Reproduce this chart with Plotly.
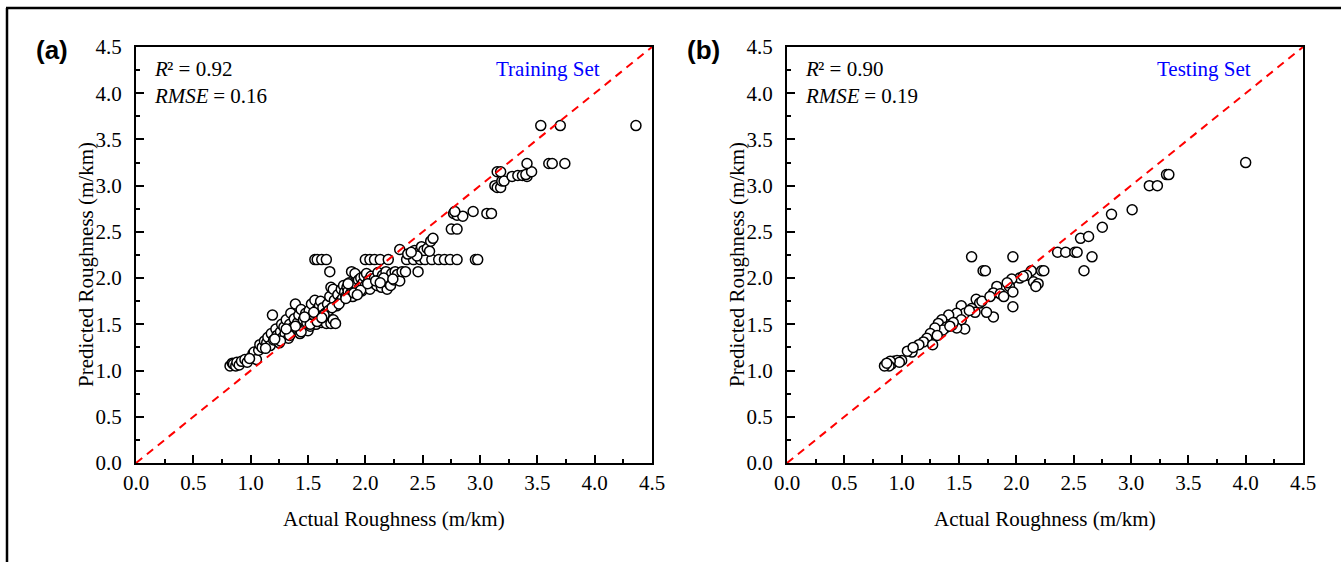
import plotly.graph_objects as go

# ---------------- data ----------------
train_actual = [
    0.82, 0.84, 0.85, 0.87, 0.88, 0.90, 0.92, 0.95, 0.97, 1.00, 1.02, 1.03, 1.05, 1.07,
    1.08, 1.10, 1.12, 1.14, 1.15, 1.17, 1.18, 1.19, 1.20, 1.22, 1.23, 1.25, 1.26, 1.27, 1.28, 1.29,
    1.30, 1.31, 1.32, 1.33, 1.34, 1.35, 1.36, 1.37, 1.38, 1.39, 1.40, 1.41, 1.42, 1.43, 1.44, 1.45,
    1.46, 1.47, 1.48, 1.49, 1.50, 1.50,
    1.51, 1.52, 1.53, 1.54, 1.55, 1.56, 1.57, 1.58, 1.59, 1.60, 1.60, 1.61, 1.62, 1.63, 1.64, 1.65,
    1.66, 1.67, 1.68, 1.70, 1.72, 1.74, 1.69, 1.70, 1.72, 1.73,
    1.56, 1.58, 1.62, 1.66, 1.69,
    1.75, 1.76, 1.78, 1.79, 1.80, 1.81, 1.82, 1.83, 1.84, 1.85, 1.86, 1.87, 1.88, 1.88, 1.89, 1.90,
    1.91, 1.92, 1.93, 1.94, 1.95, 1.96, 1.97, 1.98, 1.99,
    2.00, 2.01, 2.03, 2.04, 2.05, 2.06, 2.08, 2.10, 2.11, 2.12, 2.14, 2.15, 2.17, 2.18, 2.19, 2.20,
    2.21, 2.22, 2.23, 2.25, 2.26, 2.28, 2.30, 2.32, 2.35, 2.46,
    2.00, 2.04, 2.08, 2.13, 2.20, 2.36, 2.42, 2.48, 2.52, 2.58, 2.64, 2.69, 2.74, 2.80, 2.96, 2.98,
    2.30, 2.37, 2.43, 2.48, 2.49, 2.51, 2.54, 2.56, 2.57, 2.59, 2.45, 2.40,
    2.75, 2.80, 2.77, 2.80, 2.85, 2.94, 3.06, 3.10, 2.78,
    3.13, 3.15, 3.18, 3.19, 3.21, 3.15, 3.18, 3.28, 3.33, 3.37, 3.41, 3.40, 3.45, 3.41,
    3.60, 3.63, 3.74, 3.53, 3.70, 4.36,
    1.26, 1.34, 1.44, 1.52, 1.58, 1.64, 1.71, 1.77, 1.83, 1.90, 1.96, 2.02, 2.09, 2.16, 1.47, 1.55,
    1.62, 1.39, 1.31, 1.13, 1.21, 0.99, 2.13, 2.24, 1.85, 1.93,
]
train_pred = [
    1.05, 1.08, 1.07, 1.05, 1.09, 1.06, 1.10, 1.12, 1.09, 1.14, 1.18, 1.20, 1.12, 1.22,
    1.28, 1.25, 1.32, 1.30, 1.36, 1.27, 1.40, 1.60, 1.33, 1.45, 1.38, 1.30, 1.42, 1.50, 1.36, 1.47,
    1.40, 1.55, 1.44, 1.35, 1.50, 1.62, 1.42, 1.47, 1.56, 1.72, 1.45, 1.52, 1.60, 1.40, 1.66, 1.50,
    1.55, 1.45, 1.62, 1.52, 1.58, 1.43,
    1.65, 1.48, 1.72, 1.55, 1.60, 1.76, 1.50, 1.66, 1.62, 1.70, 1.55, 1.75, 1.52, 1.68, 1.58, 1.62,
    1.51, 1.72, 1.65, 1.51, 1.55, 1.51, 1.80, 1.90, 1.88, 1.76,
    2.20, 2.20, 2.20, 2.20, 2.07,
    1.70, 1.82, 1.75, 1.88, 1.78, 1.92, 1.85, 1.80, 1.90, 1.86, 1.95, 1.83, 2.07, 1.90, 1.80, 1.88,
    2.05, 1.93, 1.85, 1.98, 1.90, 2.00, 1.86, 1.95, 2.02,
    1.92, 2.05, 1.98, 1.88, 2.02, 1.95, 2.00, 1.92, 2.06, 1.98, 1.90, 2.03, 1.95, 2.07, 1.88, 1.95,
    2.00, 1.92, 2.05, 1.98, 2.07, 2.04, 1.97, 2.07, 2.07, 2.07,
    2.20, 2.20, 2.20, 2.20, 2.20, 2.20, 2.20, 2.20, 2.20, 2.20, 2.20, 2.20, 2.20, 2.20, 2.20, 2.20,
    2.31, 2.26, 2.30, 2.30, 2.34, 2.30, 2.32, 2.29, 2.40, 2.43, 2.24, 2.28,
    2.53, 2.53, 2.70, 2.68, 2.67, 2.72, 2.70, 2.70, 2.72,
    3.00, 2.98, 2.98, 3.05, 3.05, 3.15, 3.15, 3.10, 3.11, 3.11, 3.10, 3.12, 3.15, 3.24,
    3.24, 3.24, 3.24, 3.65, 3.65, 3.65,
    1.32, 1.38, 1.42, 1.50, 1.53, 1.60, 1.68, 1.72, 1.78, 1.84, 1.87, 1.94, 1.97, 2.00, 1.58, 1.63,
    1.57, 1.48, 1.45, 1.24, 1.34, 1.13, 1.95, 1.99, 1.94, 1.82,
]

test_actual = [
    4.00, 3.31, 3.33, 3.16, 3.23, 3.01, 2.83, 2.75, 2.56, 2.63, 2.36, 2.43, 2.51, 2.53, 2.66, 2.59,
    1.61, 1.97, 1.71, 1.73, 1.97, 1.80, 2.22, 2.24, 2.13, 2.09, 2.15, 2.19, 2.17,
    2.03, 1.96, 1.94, 1.97, 1.83, 1.80, 1.86, 1.89, 1.65, 1.68, 1.61, 1.64, 1.74,
    1.52, 1.55, 1.48, 1.52, 1.55, 1.48, 1.41, 1.35, 1.32, 1.39, 1.44, 1.36, 1.29,
    1.25, 1.31, 1.22, 1.19, 1.15, 1.09, 1.05, 1.27, 1.00, 0.93, 0.91, 0.96, 0.98, 0.90, 0.89,
    0.85, 0.87, 1.10, 1.70, 1.77, 1.59, 1.45, 2.06, 1.92, 1.42,
]
test_pred = [
    3.25, 3.12, 3.12, 3.00, 3.00, 2.74, 2.69, 2.55, 2.43, 2.45, 2.28, 2.28, 2.28, 2.28, 2.23, 2.08,
    2.23, 2.23, 2.08, 2.08, 1.69, 1.58, 2.08, 2.08, 2.08, 2.03, 1.96, 1.94, 1.91,
    2.00, 1.99, 1.91, 1.85, 1.91, 1.84, 1.83, 1.80, 1.77, 1.73, 1.67, 1.63, 1.63,
    1.70, 1.62, 1.62, 1.55, 1.45, 1.46, 1.60, 1.55, 1.51, 1.47, 1.49, 1.44, 1.46,
    1.40, 1.38, 1.35, 1.31, 1.28, 1.20, 1.21, 1.28, 1.11, 1.10, 1.07, 1.11, 1.09, 1.10, 1.05,
    1.05, 1.08, 1.25, 1.75, 1.80, 1.65, 1.52, 2.02, 1.95, 1.48,
]

diag = [0.0, 4.5]
tick_vals = [0.0, 0.5, 1.0, 1.5, 2.0, 2.5, 3.0, 3.5, 4.0, 4.5]
panel_labels = ["(a)", "(b)"]
r2_texts = ["0.92", "0.90"]
rmse_texts = ["0.16", "0.19"]
set_names = ["Training Set", "Testing Set"]
x_title = "Actual Roughness (m/km)"
y_title = "Predicted Roughness (m/km)"

# ---------------- figure ----------------
W, H = 1341, 562
SERIF = "Liberation Serif, Times New Roman, serif"
SANS = "Liberation Sans, Arial, sans-serif"
FS = 21

fig = go.Figure()

datasets = [(train_actual, train_pred), (test_actual, test_pred)]
for i, (xa, ya) in enumerate(datasets):
    xr = "x" if i == 0 else "x2"
    yr = "y" if i == 0 else "y2"
    fig.add_trace(go.Scatter(
        x=xa, y=ya, mode="markers", xaxis=xr, yaxis=yr, showlegend=False,
        marker=dict(symbol="circle", size=10, color="white",
                    line=dict(color="black", width=1.5)),
    ))
    fig.add_trace(go.Scatter(
        x=diag, y=diag, mode="lines", xaxis=xr, yaxis=yr, showlegend=False,
        line=dict(color="#FF0000", width=2, dash="8px,6px"),
    ))

left_px = [136, 787]
plot_w = 516
top_px, bot_px = 47, 463

def px_x(p):
    return p / W

def px_y(p):
    return 1 - p / H

axis_common = dict(
    range=[0, 4.5], tickvals=tick_vals, ticktext=[f"{v:.1f}" for v in tick_vals],
    showline=True, linecolor="black", linewidth=2, mirror=True,
    ticks="inside", ticklen=8, tickwidth=1.5, tickcolor="black",
    minor=dict(ticks="inside", ticklen=4, tickwidth=1.5, tickcolor="black", dtick=0.25),
    showgrid=False, zeroline=False, automargin=False,
    tickfont=dict(family=SERIF, size=FS, color="black"),
    fixedrange=True,
)

for i in range(2):
    xk = "xaxis" if i == 0 else "xaxis2"
    yk = "yaxis" if i == 0 else "yaxis2"
    anchor_x = "y" if i == 0 else "y2"
    anchor_y = "x" if i == 0 else "x2"
    fig.layout[xk] = dict(
        axis_common,
        domain=[px_x(left_px[i]), px_x(left_px[i] + plot_w)],
        anchor=anchor_x,
    )
    fig.layout[yk] = dict(
        axis_common,
        domain=[px_y(bot_px), px_y(top_px)],
        anchor=anchor_y,
        ticklabelstandoff=8,
    )

def ann(text, xp, yp, xanchor="left", size=FS, family=SERIF, color="black",
        style="normal", weight="normal", angle=0):
    return dict(
        text=text, xref="paper", yref="paper", x=px_x(xp), y=px_y(yp),
        xanchor=xanchor, yanchor="middle", showarrow=False, textangle=angle,
        font=dict(family=family, size=size, color=color, style=style, weight=weight),
    )

R_W = 0.611 * FS        # advance of italic "R"
RMSE_W = 2.555 * FS     # advance of italic "RMSE"

annotations = []
for i in range(2):
    L = left_px[i]
    x0 = L + 16
    annotations.append(ann(panel_labels[i], L - 102, 50, family=SANS, size=26, weight="bold"))
    annotations.append(ann("R", x0, 69, style="italic"))
    annotations.append(ann("\u00b2\u00a0= " + r2_texts[i], x0 + R_W, 69))
    annotations.append(ann("RMSE", x0, 96, style="italic"))
    annotations.append(ann("\u00a0= " + rmse_texts[i], x0 + RMSE_W, 96))
    annotations.append(ann(set_names[i], L + 466, 69, xanchor="right", color="#0000FF"))
    annotations.append(ann(x_title, L + plot_w / 2, 519, xanchor="center"))
    annotations.append(ann(y_title, L - 50, 265, xanchor="center", angle=-90))

shapes = [
    dict(type="line", xref="paper", yref="paper", x0=px_x(7), x1=px_x(7), y0=0, y1=px_y(8),
         line=dict(color="black", width=2.5)),
    dict(type="line", xref="paper", yref="paper", x0=px_x(6), x1=1, y0=px_y(8), y1=px_y(8),
         line=dict(color="black", width=2.5)),
]

fig.update_layout(
    width=W, height=H, margin=dict(l=0, r=0, t=0, b=0, autoexpand=False),
    paper_bgcolor="white", plot_bgcolor="white",
    annotations=annotations, shapes=shapes, showlegend=False,
)

fig.write_html(
    "out.html",
    config={"displayModeBar": False},
    post_script="document.body.style.margin='0';document.body.style.overflow='hidden';",
)
